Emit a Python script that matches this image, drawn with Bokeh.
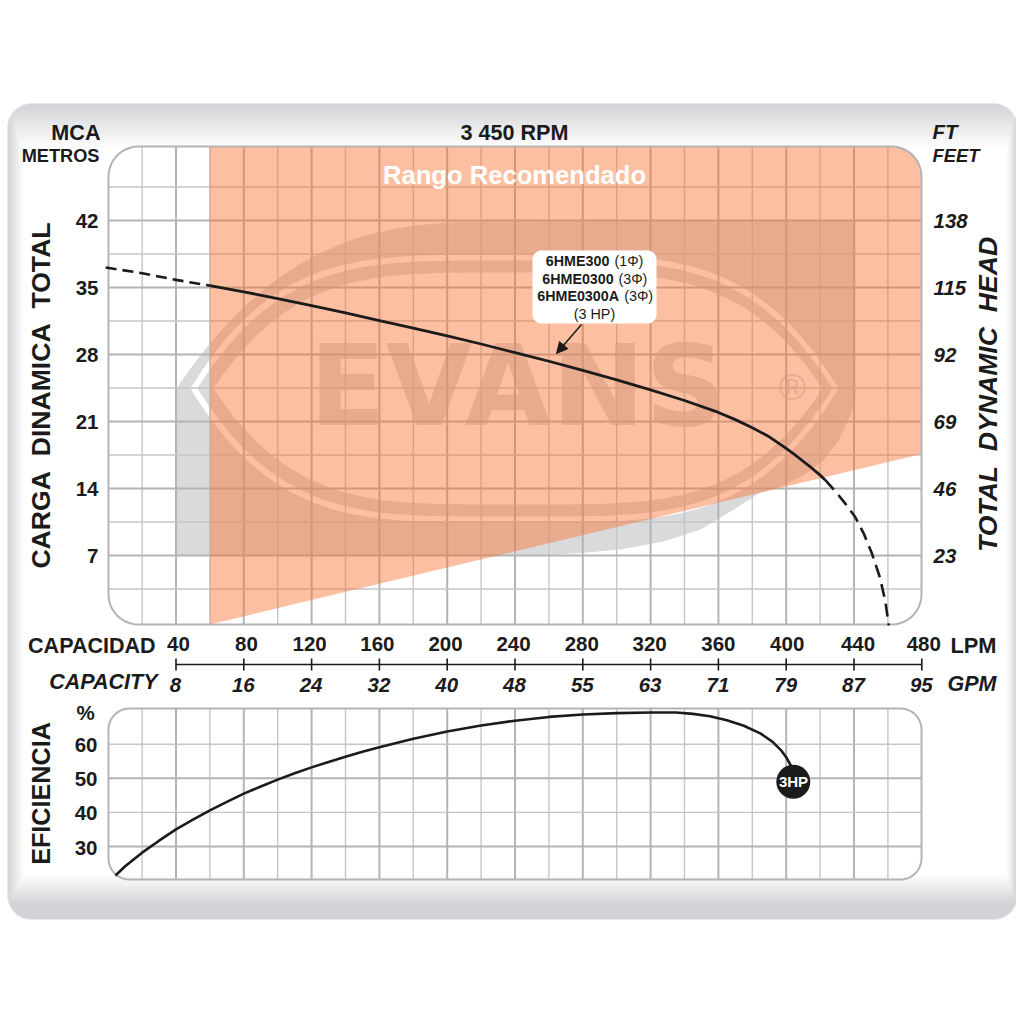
import numpy as np
from bokeh.plotting import figure
from bokeh.models import Range1d, Arrow, NormalHead
from bokeh.core.properties import value
from bokeh.embed import file_html
from bokeh.resources import INLINE

# ---------- data ----------
LPM_TICKS = [40, 80, 120, 160, 200, 240, 280, 320, 360, 400, 440, 480]
GPM_LABELS = ["8", "16", "24", "32", "40", "48", "55", "63", "71", "79", "87", "95"]
MCA_TICKS = [42, 35, 28, 21, 14, 7]
FT_LABELS = ["138", "115", "92", "69", "46", "23"]
EFF_TICKS = [60, 50, 40, 30]
GRID_LPM = [20, 40, 60, 80, 100, 120, 140, 160, 180, 200, 220, 240, 260, 280, 300, 320,
            340, 360, 380, 400, 420, 440, 460]
GRID_MCA = [45.5, 42, 38.5, 35, 31.5, 28, 24.5, 21, 17.5, 14, 10.5, 7, 3.5]
GRID_EFF = [60, 50, 40, 30]

HEAD_DASH_L_Q = [-1.5, 20, 40, 60]
HEAD_DASH_L_H = [37.1, 36.5, 35.8, 35.2]
HEAD_Q = [60, 80, 100, 120, 140, 160, 180, 200, 220, 240, 260, 280, 300, 320, 340, 360,
          370, 380, 390, 395, 400, 405, 410, 415, 420, 423]
HEAD_H = [35.2, 34.55, 33.85, 33.1, 32.35, 31.55, 30.75, 29.95, 29.1, 28.2, 27.3, 26.35, 25.35,
          24.3, 23.2, 21.95, 21.2, 20.35, 19.4, 18.8, 18.2, 17.55, 16.85, 16.15, 15.4, 14.9]
HEAD_DASH_R_Q = [423, 430, 435, 440.8, 446, 450.6, 455.3, 458.5, 460.5]
HEAD_DASH_R_H = [14.9, 13.5, 12.4, 11.0, 9.2, 7.2, 4.7, 2.2, -0.3]

EFF_Q = [4.3, 10, 20, 30, 40, 50, 60, 70, 80, 90, 100, 110, 120, 130, 140, 150, 160, 180, 200,
         220, 240, 260, 280, 300, 320, 335, 345, 355, 365, 375, 385, 392, 397, 400, 403]
EFF_V = [21.5, 24.2, 28.2, 31.7, 35, 37.9, 40.6, 43.1, 45.5, 47.6, 49.6, 51.5, 53.2, 54.8, 56.3,
         57.8, 59.1, 61.6, 63.7, 65.5, 66.9, 68, 68.7, 69.1, 69.3, 69.3, 68.9, 68.2, 67, 65.4,
         63.1, 60.7, 58.2, 56.2, 53.5]
MARK_Q = [404.2]
MARK_V = [49]

RANGE_Q = [60, 480]
RANGE_H = [-0.2, 17.6]

# ---------- scales ----------
INK = "#1b1b1b"
GRID_THIN = "#c6c6c6"
GRID_THICK = "#b4b4b4"
FONT = value("Liberation Sans")


def lpm_of(sx):
    return 40 + (sx - 175.5) / 1.695


def mca_of(sy):
    return (622 - sy) / 9.57


def eff_of(sy):
    return 30 + (846 - sy) / 3.41


p = figure(width=1016, height=1016, output_backend="svg", toolbar_location=None,
           x_range=Range1d(lpm_of(0), lpm_of(1016)), y_range=Range1d(mca_of(1016), mca_of(0)),
           x_axis_location=None, y_axis_location=None, min_border=0,
           background_fill_color="white", border_fill_color="white", outline_line_color=None)
p.grid.visible = False
p.extra_x_ranges["px"] = Range1d(0, 1016)
p.extra_y_ranges["px"] = Range1d(-1016, 0)
p.extra_y_ranges["eff"] = Range1d(eff_of(1016), eff_of(0))
PX = dict(x_range_name="px", y_range_name="px")


def round_rect(l, t, r, b, rad, corners=(True, True, True, True)):
    xs, ys = [], []
    for (cx, cy, a0, on) in ((l + rad, t + rad, 180, corners[0]), (r - rad, t + rad, 270, corners[1]),
                             (r - rad, b - rad, 0, corners[2]), (l + rad, b - rad, 90, corners[3])):
        if on:
            for a in np.linspace(a0, a0 + 90, 12):
                xs.append(cx + rad * np.cos(np.radians(a)))
                ys.append(-(cy + rad * np.sin(np.radians(a))))
        else:
            xs.append(l if cx < (l + r) / 2 else r)
            ys.append(-(t if cy < (t + b) / 2 else b))
    return xs, ys


def txt(s, x, y, size, style="bold", align="center", color=INK, angle=0, font=FONT):
    p.text(x=[x], y=[-y], text=[s], text_font=font, text_font_size=f"{size}px",
           text_font_style=style, text_align=align, text_baseline="middle",
           text_color=color, angle=angle, **PX)


# ---------- card with soft shaded edges ----------
W, H = 1016, 816
sx = np.arange(W)[None, :] + 0.5
sy = np.arange(H)[:, None] + 103.5
shade = np.maximum.reduce([
    np.clip(1 - (sy - 103) / 44, 0, 1) * np.ones((H, W)),
    np.clip((sy - 874) / 30, 0, 1) * np.ones((H, W)),
    np.clip(1 - (sx - 7) / 16, 0, 1) * np.ones((H, W)),
    np.clip((sx - 1006) / 10, 0, 1) * np.ones((H, W)),
])
L, T, R, B, RAD = 7, 103, 1017, 919, 24
qx = np.abs(sx - (L + R) / 2) - ((R - L) / 2 - RAD)
qy = np.abs(sy - (T + B) / 2) - ((B - T) / 2 - RAD)
dist = np.hypot(np.maximum(qx, 0), np.maximum(qy, 0)) + np.minimum(np.maximum(qx, qy), 0) - RAD
alpha = np.clip(0.5 - dist, 0, 1)
cr = (255 + (0xd2 - 255) * shade).astype(np.uint32)
cg = (255 + (0xd3 - 255) * shade).astype(np.uint32)
cb = (255 + (0xd6 - 255) * shade).astype(np.uint32)
ca = (alpha * 255).astype(np.uint32)
card = (cr | (cg << 8) | (cb << 16) | (ca << 24))[::-1]
p.image_rgba(image=[card], x=0, y=-919, dw=1016, dh=816, **PX)

# ---------- watermark (below the grid) ----------
LOGO_GREY = "#d9dadc"


def eye(x0, x1, h, power, cy=388):
    c, a = (x0 + x1) / 2, (x1 - x0) / 2
    ts = np.linspace(-1, 1, 121)
    xs = c + a * ts
    d = h * (1 - np.abs(ts) ** power)
    return list(xs) + list(xs[::-1]), list(-(cy - d)) + list(-(cy + d[::-1]))


ts = np.linspace(-1, 0, 60)
shape_x = list(514 + 338 * ts) + [855, 855, 850, 838, 823, 803, 783, 760, 735, 700, 663, 620, 575, 530, 176]
shape_y = list(-(388 - 167 * (1 - np.abs(ts) ** 3))) + [-220, -398, -415, -440, -460, -475, -485, -492,
                                                        -508, -529, -541, -549, -553, -555, -555]
p.patch(shape_x, shape_y, fill_color=LOGO_GREY, line_color=None, **PX)
for x0, x1, h, col in ((190, 838, 134, "white"), (197, 832, 128, LOGO_GREY), (213, 822, 116, "white")):
    ex, ey = eye(x0, x1, h, 4)
    p.patch(ex, ey, fill_color=col, line_color=None, **PX)
txt("EVANS", 517, 385, 112, color=LOGO_GREY, font=value("DejaVu Sans"))
txt("®", 792, 387, 37, style="normal", color=LOGO_GREY)

# ---------- grids ----------
for v in GRID_LPM:
    major = v % 40 == 0
    col, lw = (GRID_THICK, 2) if major else (GRID_THIN, 1.4)
    p.segment(x0=[v], x1=[v], y0=[-146], y1=[-624], y_range_name="px", line_color=col, line_width=lw)
    p.segment(x0=[v], x1=[v], y0=[-708], y1=[-879], y_range_name="px", line_color=col, line_width=lw)
for v in GRID_MCA:
    major = v % 7 == 0
    col, lw = (GRID_THICK, 2) if major else (GRID_THIN, 1.4)
    p.segment(x0=[108], x1=[921], y0=[v], y1=[v], x_range_name="px", line_color=col, line_width=lw)
for v in GRID_EFF:
    major = v % 20 == 10
    col, lw = (GRID_THICK, 2) if major else (GRID_THIN, 1.4)
    p.segment(x0=[108], x1=[921], y0=[v], y1=[v], x_range_name="px", y_range_name="eff",
              line_color=col, line_width=lw)

# ---------- recommended range ----------
bx, by = round_rect(209, 146, 921, 624, 30, corners=(False, True, False, False))
top_x = [lpm_of(x) for x in bx[:-2]]
top_y = [mca_of(-y) for y in by[:-2]]
p.patch(top_x + [RANGE_Q[1], RANGE_Q[0]], top_y + [RANGE_H[1], RANGE_H[0]],
        fill_color="#fb712f", fill_alpha=0.45, line_color=None)

# ---------- panel frames ----------
fx, fy = round_rect(108, 146, 921, 624, 30)
p.line(fx + fx[:1], fy + fy[:1], line_color=GRID_THICK, line_width=2, **PX)
fx, fy = round_rect(108, 708, 921, 879, 21)
p.line(fx + fx[:1], fy + fy[:1], line_color=GRID_THICK, line_width=2, **PX)

# ---------- curves ----------
p.line(HEAD_DASH_L_Q, HEAD_DASH_L_H, line_color=INK, line_width=2.6, line_dash="11 6")
p.line(HEAD_Q, HEAD_H, line_color=INK, line_width=2.8, line_join="round")
p.line(HEAD_DASH_R_Q, HEAD_DASH_R_H, line_color=INK, line_width=2.6, line_dash="13 7")
p.line(EFF_Q, EFF_V, y_range_name="eff", line_color=INK, line_width=2.6, line_join="round")
p.scatter(MARK_Q, MARK_V, y_range_name="eff", size=34, marker="circle", fill_color=INK, line_color=None)
txt("3HP", 793, 781, 15, color="white")

# ---------- callout ----------
bx, by = round_rect(532, 250, 656, 323, 9)
p.patch(bx, by, fill_color="white", line_color=None, **PX)
for (bold, bx0, rest, rx0, cy) in (("6HME300", 545.3, "(1Φ)", 614, 260),
                                   ("6HME0300", 541.7, "(3Φ)", 618, 278),
                                   ("6HME0300A", 536.7, "(3Φ)", 623.7, 295)):
    txt(bold, bx0, cy, 14.3, align="left")
    txt(rest, rx0, cy, 14.3, style="normal", align="left")
txt("(3 HP)", 594, 313, 14.3, style="normal")
p.add_layout(Arrow(end=NormalHead(size=11, fill_color=INK, line_color=INK, line_width=1),
                   x_start=581, y_start=-324, x_end=556, y_end=-353, line_color=INK, line_width=1.5, **PX))

# ---------- headers ----------
txt("Rango Recomendado", 514, 174, 25.6, color="white")
txt("3 450 RPM", 514, 132, 21.6)
txt("MCA", 100, 132, 21.6, align="right")
txt("METROS", 99, 155, 18.2, align="right")
txt("FT", 932, 131, 20.5, style="bold italic", align="left")
txt("FEET", 932, 155, 18.4, style="bold italic", align="left")

# ---------- vertical titles ----------
NB = "\u00a0\u00a0"
txt(f"CARGA{NB}DINAMICA{NB}TOTAL", 40, 395, 26.6, angle=np.pi / 2)
txt(f"TOTAL{NB}DYNAMIC{NB}HEAD", 987, 394, 26.6, style="bold italic", angle=np.pi / 2)
txt("EFICIENCIA", 40, 793, 25.2, angle=np.pi / 2)

# ---------- value labels ----------
p.text(x=[98] * len(MCA_TICKS), y=MCA_TICKS, text=[str(v) for v in MCA_TICKS], x_range_name="px",
       text_font=FONT, text_font_size="20.5px", text_font_style="bold", text_align="right",
       text_baseline="middle", text_color=INK)
p.text(x=[933] * len(MCA_TICKS), y=MCA_TICKS, text=FT_LABELS, x_range_name="px",
       text_font=FONT, text_font_size="20.5px", text_font_style="bold italic", text_align="left",
       text_baseline="middle", text_color=INK)
p.text(x=[97] * len(EFF_TICKS), y=EFF_TICKS, y_offset=1, text=[str(v) for v in EFF_TICKS],
       x_range_name="px", y_range_name="eff", text_font=FONT, text_font_size="20.5px",
       text_font_style="bold", text_align="right", text_baseline="middle", text_color=INK)
txt("%", 85, 711.5, 20.5)

# ---------- capacity scale ----------
p.segment(x0=[LPM_TICKS[0]], x1=[LPM_TICKS[-1]], y0=[-664], y1=[-664], y_range_name="px",
          line_color=INK, line_width=1.6)
p.segment(x0=LPM_TICKS, x1=LPM_TICKS, y0=[-658] * 12, y1=[-670] * 12, y_range_name="px",
          line_color=INK, line_width=1.6)
for tick, nudge in zip(LPM_TICKS, [2.5, 2.7, -2, -2, -1.7, -1.5, -1, -1, 0, 1, 4, 2]):
    p.text(x=[tick], y=[-643], text=[str(tick)], y_range_name="px", x_offset=nudge,
           text_font=FONT, text_font_size="20.5px", text_font_style="bold",
           text_align="center", text_baseline="middle", text_color=INK)
p.text(x=LPM_TICKS, y=[-684.5] * 12, text=GPM_LABELS, y_range_name="px", x_offset=-0.5,
       text_font=FONT, text_font_size="20.5px", text_font_style="bold italic",
       text_align="center", text_baseline="middle", text_color=INK)
txt("CAPACIDAD", 155, 645, 21.5, align="right")
txt("CAPACITY", 157, 681, 21.5, style="bold italic", align="right")
txt("LPM", 996, 645, 21.8, align="right")
txt("GPM", 996, 683, 21.5, style="bold italic", align="right")

open("out.html", "w").write(file_html(p, INLINE))
